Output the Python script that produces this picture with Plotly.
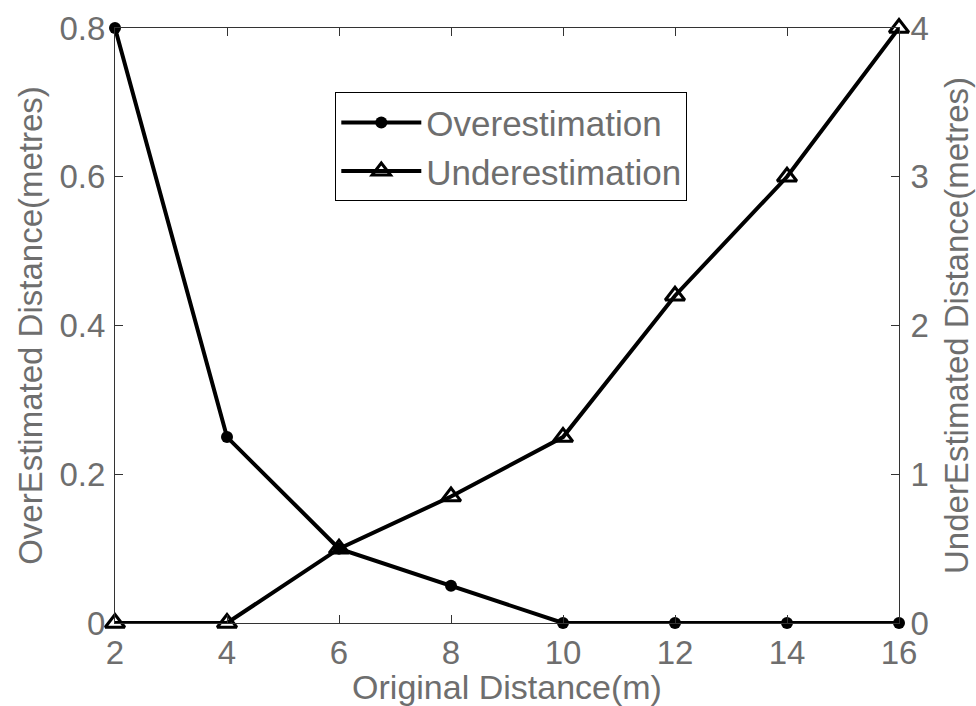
import plotly.graph_objects as go

# Original distance (m)
distance = [2, 4, 6, 8, 10, 12, 14, 16]
# Overestimated distance (m), left axis
over_est = [0.8, 0.25, 0.1, 0.05, 0.0, 0.0, 0.0, 0.0]
# Underestimated distance (m), right axis
under_est = [0.0, 0.0, 0.5, 0.85, 1.25, 2.2, 3.0, 4.0]

x_ticks = [2, 4, 6, 8, 10, 12, 14, 16]
left_ticks = [0, 0.2, 0.4, 0.6, 0.8]
left_labels = ["0", "0.2", "0.4", "0.6", "0.8"]
right_ticks = [0, 1, 2, 3, 4]

FONT = "Liberation Sans, Arial, sans-serif"
TEXT_GRAY = "#6e6e6e"

fig = go.Figure()

fig.add_trace(go.Scatter(
    x=distance, y=over_est, name="Overestimation",
    mode="lines+markers",
    line=dict(color="black", width=4),
    marker=dict(symbol="circle", size=12, color="black"),
    cliponaxis=False,
    yaxis="y",
))
fig.add_trace(go.Scatter(
    x=distance, y=under_est, name="Underestimation",
    mode="lines+markers",
    line=dict(color="black", width=4),
    marker=dict(symbol="triangle-up-open", size=17, color="black",
                line=dict(color="black", width=3)),
    cliponaxis=False,
    yaxis="y2",
))

axis_common = dict(
    showgrid=False, zeroline=False, automargin=False,
    showline=True, linecolor="#333", linewidth=1,
    ticks="inside", ticklen=8, tickcolor="#333", tickwidth=1,
    tickfont=dict(family=FONT, size=33, color=TEXT_GRAY),
)

fig.update_layout(
    width=976, height=706,
    margin=dict(l=115, r=77, t=28, b=83),
    paper_bgcolor="white", plot_bgcolor="white",
    font=dict(family=FONT, color=TEXT_GRAY),
    xaxis=dict(
        range=[2, 16], tickvals=x_ticks, mirror="ticks",
        title=dict(text="Original Distance(m)", font=dict(size=34, color=TEXT_GRAY), standoff=0),
        ticklabelstandoff=0,
        **axis_common,
    ),
    yaxis=dict(
        range=[0, 0.8], tickvals=left_ticks, ticktext=left_labels,
        title=dict(text="OverEstimated Distance(metres)", font=dict(size=33, color=TEXT_GRAY), standoff=6),
        ticklabelstandoff=2,
        **axis_common,
    ),
    yaxis2=dict(
        range=[0, 4], tickvals=right_ticks, overlaying="y", side="right",
        title=dict(text="UnderEstimated Distance(metres)", font=dict(size=33, color=TEXT_GRAY), standoff=16),
        ticklabelstandoff=4,
        **axis_common,
    ),
    legend=dict(
        x=0.281, y=0.892, xanchor="left", yanchor="top",
        bgcolor="white", bordercolor="black", borderwidth=1,
        font=dict(family=FONT, size=35, color=TEXT_GRAY),
        itemwidth=80, tracegroupgap=0,
    ),
    showlegend=True,
)

fig.write_html("out.html")
